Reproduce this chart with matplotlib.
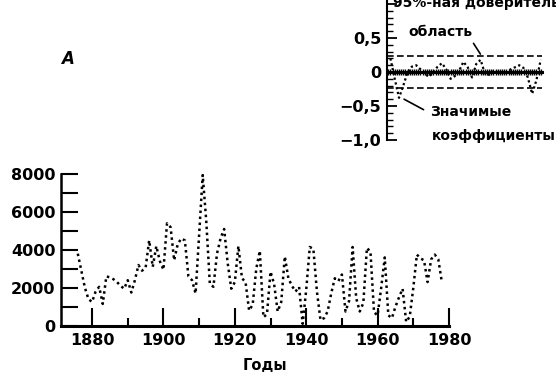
import matplotlib.pyplot as plt
import numpy as np

plt.rcParams['font.family'] = ['DejaVu Sans']
plt.rcParams['font.weight'] = 'bold'

# annual series, 1876-1978
years = np.arange(1876, 1979)
counts = [3800, 2900, 2000, 1400, 1250, 1800, 2050, 1150, 2600, 2550,
          2450, 2300, 2100, 1950, 2400, 1750, 2400, 3200, 2900, 3050,
          4500, 3100, 4200, 3400, 2950, 5400, 5200, 3450, 4300, 4600,
          4500, 2600, 2400, 1700, 4800, 7950, 5500, 2200, 2050, 3800,
          4600, 5100, 3300, 1950, 2300, 4200, 2500, 2300, 800, 1100,
          3000, 3950, 450, 600, 2850, 2200, 750, 1250, 3650, 2500,
          2100, 1800, 2050, 100, 1900, 4150, 4050, 1800, 300, 400,
          750, 1700, 2500, 2350, 2700, 750, 1300, 4150, 1450, 750,
          1200, 4100, 3900, 700, 550, 2000, 3600, 550, 400, 1000,
          1500, 1950, 200, 480, 2000, 3750, 3550, 3450, 2300, 3500,
          3750, 3500, 2300]

# autocorrelation coefficients by lag
lags = np.arange(1, 37)
acf = [0.20, -0.10, -0.38, -0.20, 0.00, 0.08, 0.10, 0.04, -0.03, -0.07,
       0.00, 0.08, 0.13, 0.04, -0.10, -0.06, 0.02, 0.15, 0.07, -0.08,
       0.12, 0.18, -0.02, -0.04, 0.02, 0.00, -0.01, 0.00, 0.04, 0.07,
       0.10, 0.06, -0.08, -0.32, -0.12, 0.18]
conf = 0.23

W, H = 556, 379


def px(x, y):
    return x / W, 1 - y / H


fig = plt.figure(figsize=(W / 100, H / 100), dpi=100)

# main time series
ax = fig.add_axes([61 / W, 1 - 325.7 / H, (449 - 61) / W, (325.7 - 174) / H])
ax.plot(years, counts, color='k', lw=1.8, ls=(0, (1, 1.4)))
ax.set_xlim(1871.3, 1980)
ax.set_ylim(0, 8000)
for s in ['top', 'right']:
    ax.spines[s].set_visible(False)
ax.spines['left'].set_linewidth(1.8)
ax.spines['bottom'].set_linewidth(2.2)
ax.set_xticks([1880, 1900, 1920, 1940, 1960, 1980])
ax.set_xticks([1890, 1910, 1930, 1950, 1970], minor=True)
ax.set_yticks([0, 2000, 4000, 6000, 8000])
ax.set_yticks([1000, 3000, 5000, 7000], minor=True)
ax.tick_params(axis='x', which='major', direction='in', length=13, width=1.5,
               labelsize=11.5, pad=5)
ax.tick_params(axis='x', which='minor', direction='in', length=6, width=1.5)
ax.tick_params(axis='y', which='both', direction='in', length=12, width=1.5,
               labelsize=11.5, pad=4)

fig.text(*px(265, 366), 'Годы', fontsize=10.5, ha='center', va='center')
fig.text(*px(68, 59), 'A', fontsize=12, style='italic', ha='center', va='center')

# correlogram inset
ax2 = fig.add_axes([387 / W, 1 - 140 / H, (542 - 387) / W, 140 / H])
ax2.set_xlim(0.2, 36.3)
ax2.set_ylim(-1.0, 1.06)
ax2.patch.set_alpha(0)
for s in ['top', 'right']:
    ax2.spines[s].set_visible(False)
ax2.spines['bottom'].set_position(('data', 0))
ax2.spines['bottom'].set_linewidth(2.2)
ax2.spines['left'].set_linewidth(1.5)
ax2.plot(lags, acf, color='k', lw=1.6, ls=(0, (1, 1.2)))
ax2.axhline(conf, color='k', lw=1.2, ls=(0, (4, 2)))
ax2.axhline(-conf, color='k', lw=1.2, ls=(0, (4, 2)))
ax2.set_xticks(lags)
ax2.set_xticks(lags - 0.5, minor=True)
ax2.tick_params(axis='x', which='both', direction='inout', length=4, width=1,
                labelbottom=False)
ax2.set_yticks([-1.0, -0.5, 0, 0.5, 1.0])
ax2.set_yticklabels(['−1,0', '−0,5', '0', '0,5', ''])
ax2.set_yticks(np.arange(-1.0, 1.05, 0.1), minor=True)
ax2.tick_params(axis='y', which='major', direction='in', length=7, width=1.3,
                labelsize=11.5, pad=4)
ax2.tick_params(axis='y', which='minor', direction='in', length=4, width=1)

fig.text(393 / W, 1 - 7 / H, '95%-ная доверительная', fontsize=10,
         ha='left', va='baseline')
fig.text(*px(408, 32), 'область', fontsize=10, ha='left', va='center')
fig.text(*px(430, 112), 'Значимые', fontsize=10, ha='left', va='center')
fig.text(*px(432, 136), 'коэффициенты', fontsize=10, ha='left', va='center')

ax2.annotate('', xy=(22.3, conf), xytext=px(472, 41), textcoords='figure fraction',
             arrowprops=dict(arrowstyle='-', lw=1.2, color='k'), annotation_clip=False)
ax2.annotate('', xy=(3.6, -0.38), xytext=px(426, 111), textcoords='figure fraction',
             arrowprops=dict(arrowstyle='-', lw=1.2, color='k'), annotation_clip=False)

fig.savefig('out.png', dpi=100)
